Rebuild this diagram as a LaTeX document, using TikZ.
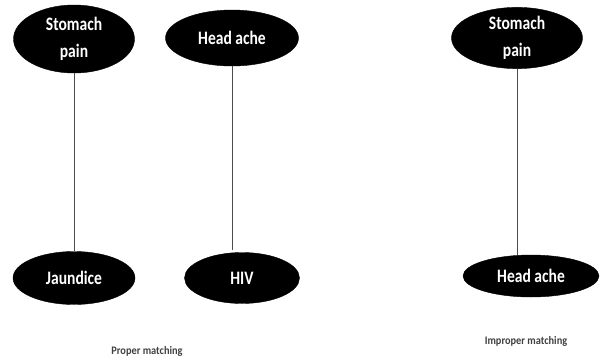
\documentclass[tikz,border=0pt]{standalone}
\usepackage{fontspec}
\usepackage{graphicx}
\setmainfont{Carlito}
\usetikzlibrary{shapes.geometric}
\newcommand\cond[1]{\scalebox{0.82}[1]{#1}}
\newcommand\capcond[1]{\scalebox{0.9}[1]{#1}}
\begin{document}
\begin{tikzpicture}[x=1pt,y=-1pt,
  blob/.style={ellipse,fill=black,draw=black,inner sep=0pt,text=white,font=\bfseries\fontsize{19}{27}\selectfont,align=center},
  link/.style={draw=black!70,line width=0.8pt},
  caption/.style={text=black!75,font=\bfseries\fontsize{11.5}{13}\selectfont}]
\useasboundingbox (0,0) rectangle (600,362);
\node[blob,minimum width=121,minimum height=68] (sp1) at (74,39) {\cond{Stomach}\\\cond{pain}};
\node[blob,minimum width=133,minimum height=56] (ha1) at (232,38) {\cond{Head ache}};
\node[blob,minimum width=122,minimum height=53] (ja) at (74,278) {\cond{Jaundice}};
\node[blob,minimum width=115,minimum height=51] (hiv) at (242,278) {\cond{HIV}};
\node[blob,minimum width=131,minimum height=59] (sp2) at (517,38) {\cond{Stomach}\\\cond{pain}};
\node[blob,minimum width=136,minimum height=42] (ha2) at (531,276) {\cond{Head ache}};
\coordinate (e1) at (232,250);
\draw[link] (sp1) -- (sp1 |- ja.north);
\draw[link] (ha1) -- (e1);
\draw[link] (sp2) -- (sp2 |- ha2.north);
\node[caption] (c1) at (147,351) {\capcond{Proper matching}};
\node[caption] (c2) at (526,341) {\capcond{Improper matching}};
\end{tikzpicture}
\end{document}
